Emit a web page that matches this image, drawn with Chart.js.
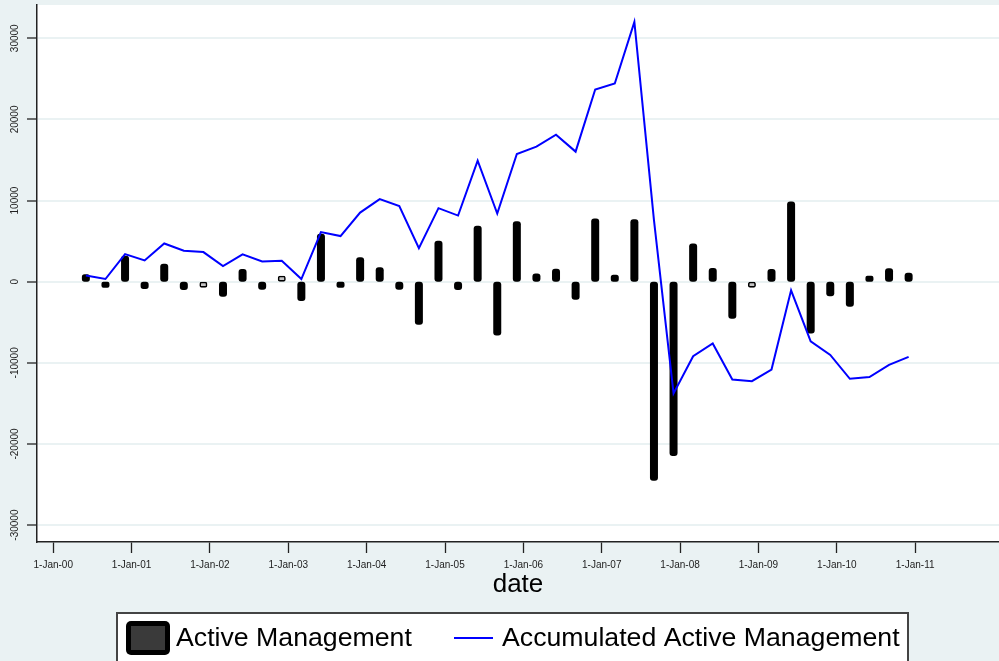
<!DOCTYPE html>
<html>
<head>
<meta charset="utf-8">
<script src="https://cdn.jsdelivr.net/npm/chart.js@4.4.0/dist/chart.umd.min.js"></script>
<style>
  html, body { margin: 0; padding: 0; background: #eaf2f3; }
  #wrap { width: 999px; height: 661px; }
</style>
</head>
<body>
<div id="wrap"><canvas id="chart"></canvas></div>
<script>
// Fechas trimestrales (una barra por trimestre)
const fechas = [
  '2000-06-01', '2000-09-01', '2000-12-01',
  '2001-03-01', '2001-06-01', '2001-09-01', '2001-12-01',
  '2002-03-01', '2002-06-01', '2002-09-01', '2002-12-01',
  '2003-03-01', '2003-06-01', '2003-09-01', '2003-12-01',
  '2004-03-01', '2004-06-01', '2004-09-01', '2004-12-01',
  '2005-03-01', '2005-06-01', '2005-09-01', '2005-12-01',
  '2006-03-01', '2006-06-01', '2006-09-01', '2006-12-01',
  '2007-03-01', '2007-06-01', '2007-09-01', '2007-12-01',
  '2008-03-01', '2008-06-01', '2008-09-01', '2008-12-01',
  '2009-03-01', '2009-06-01', '2009-09-01', '2009-12-01',
  '2010-03-01', '2010-06-01', '2010-09-01', '2010-12-01'
];

// Active Management (barras)
const activeMgmt = [
  780, -450, 3070,
  -780, 2090, -900, -160,
  -1720, 1430, -860, 80,
  -2250, 5780, -490, 2900,
  1650, -860, -5170, 4920,
  -910, 6770, -6520, 7340,
  900, 1480, -2090, 7660,
  740, 7580, -24410, -21370,
  4590, 1560, -4430, -210,
  1440, 9750, -6270, -1680,
  -2950, 260, 1520, 980
];

// Accumulated Active Management (línea)
const accumulated = [
  775, 330, 3400,
  2620, 4710, 3810, 3650,
  1930, 3360, 2500, 2580,
  330, 6110, 5620, 8520,
  10170, 9310, 4140, 9060,
  8150, 14920, 8400, 15740,
  16640, 18120, 16030, 23690,
  24430, 32010, 7600, -13770,
  -9180, -7620, -12050, -12260,
  -10820, -1070, -7340, -9020,
  -11970, -11760, -10240, -9260
];

// Etiquetas de los ejes
const xTickYears = [2000, 2001, 2002, 2003, 2004, 2005, 2006, 2007, 2008, 2009, 2010, 2011];
const xTickLabels = ['1-Jan-00', '1-Jan-01', '1-Jan-02', '1-Jan-03', '1-Jan-04', '1-Jan-05',
  '1-Jan-06', '1-Jan-07', '1-Jan-08', '1-Jan-09', '1-Jan-10', '1-Jan-11'];
const yTickValues = [-30000, -20000, -10000, 0, 10000, 20000, 30000];

const FONDO = '#eaf2f3';
const EJE = '#222222';
const FUENTE = "'Liberation Sans', Arial, Helvetica, sans-serif";

// Convierte 'YYYY-MM-DD' en año decimal
function aAnio(s) {
  const [a, m, d] = s.split('-').map(Number);
  return a + (m - 1) / 12 + (d - 1) / 365;
}

const barPoints = fechas.map((f, i) => ({ x: aAnio(f), y: activeMgmt[i] }));
const linePoints = fechas.map((f, i) => ({ x: aAnio(f), y: accumulated[i] }));

// Fondo gris azulado y área del gráfico en blanco
const fondoPlugin = {
  id: 'fondo',
  beforeDraw(chart) {
    const { ctx, chartArea: a } = chart;
    ctx.save();
    ctx.fillStyle = FONDO;
    ctx.fillRect(0, 0, chart.width, chart.height);
    ctx.fillStyle = '#ffffff';
    ctx.fillRect(a.left, a.top, a.right - a.left, a.bottom - a.top);
    ctx.restore();
  }
};

// Etiquetas verticales del eje Y
const etiquetasYPlugin = {
  id: 'etiquetasY',
  afterDraw(chart) {
    const { ctx } = chart;
    const y = chart.scales.y;
    ctx.save();
    ctx.font = '10px ' + FUENTE;
    ctx.fillStyle = EJE;
    ctx.textAlign = 'center';
    ctx.textBaseline = 'middle';
    y.ticks.forEach(t => {
      const py = y.getPixelForValue(t.value);
      ctx.save();
      ctx.translate(15, py);
      ctx.rotate(-Math.PI / 2);
      ctx.fillText(String(t.value), 0, 0);
      ctx.restore();
    });
    ctx.restore();
  }
};

// Leyenda en recuadro blanco, abajo
const leyendaPlugin = {
  id: 'leyenda',
  afterDraw(chart) {
    const { ctx } = chart;
    const ds = chart.data.datasets;
    ctx.save();
    ctx.fillStyle = '#ffffff';
    ctx.fillRect(117, 613, 791, 60);
    ctx.strokeStyle = '#444444';
    ctx.lineWidth = 2;
    ctx.strokeRect(117, 613, 791, 60);

    // símbolo de barra
    ctx.fillStyle = '#000000';
    ctx.beginPath();
    ctx.roundRect(126, 621, 44, 34, 5);
    ctx.fill();
    ctx.fillStyle = '#3a3a3a';
    ctx.fillRect(131, 626, 34, 24);

    // símbolo de línea
    ctx.strokeStyle = ds[0].borderColor;
    ctx.lineWidth = 2;
    ctx.beginPath();
    ctx.moveTo(454, 638);
    ctx.lineTo(493, 638);
    ctx.stroke();

    ctx.fillStyle = '#000000';
    ctx.font = '26.7px ' + FUENTE;
    ctx.textBaseline = 'middle';
    ctx.textAlign = 'left';
    ctx.fillText(ds[1].label, 176, 639);
    ctx.fillText(ds[0].label, 502, 639);
    ctx.restore();
  }
};

const esPequena = v => Math.abs(v) < 230;

window.addEventListener('load', () => {
  Chart.defaults.font.family = FUENTE;

  new Chart(document.getElementById('chart').getContext('2d'), {
    data: {
      datasets: [
        {
          type: 'line',
          label: 'Accumulated Active Management',
          data: linePoints,
          borderColor: '#0000ff',
          borderWidth: 2,
          pointRadius: 0,
          tension: 0,
          order: 0
        },
        {
          type: 'bar',
          label: 'Active Management',
          data: barPoints,
          backgroundColor: c => esPequena(c.raw.y) ? '#c4c4c4' : '#000000',
          borderColor: '#000000',
          borderWidth: c => esPequena(c.raw.y) ? 1.6 : 0,
          borderRadius: 4,
          borderSkipped: false,
          barThickness: 6,
          inflateAmount: 1,
          minBarLength: 5,
          order: 1
        }
      ]
    },
    options: {
      responsive: true,
      maintainAspectRatio: false,
      devicePixelRatio: 1,
      animation: false,
      layout: { padding: { top: 5, left: 0, right: 0, bottom: 0 } },
      plugins: {
        legend: { display: false },
        tooltip: { enabled: false }
      },
      scales: {
        x: {
          type: 'linear',
          position: 'bottom',
          offset: false,
          min: 1999.793,
          max: 2012.07,
          afterBuildTicks: s => { s.ticks = xTickYears.map(v => ({ value: v })); },
          afterFit: s => { s.height = 119; },
          ticks: {
            autoSkip: false,
            maxRotation: 0,
            minRotation: 0,
            padding: 6,
            color: EJE,
            font: { size: 10 },
            callback: v => xTickLabels[xTickYears.indexOf(v)]
          },
          grid: {
            offset: false,
            drawOnChartArea: false,
            drawTicks: true,
            tickLength: 11,
            tickColor: EJE,
            tickWidth: 1.3
          },
          border: { display: true, color: EJE, width: 1.5 },
          title: {
            display: true,
            text: 'date',
            color: '#000000',
            font: { size: 26 },
            padding: { top: 0, bottom: 61 }
          }
        },
        y: {
          type: 'linear',
          position: 'left',
          min: -32080,
          max: 34100,
          afterBuildTicks: s => { s.ticks = yTickValues.map(v => ({ value: v })); },
          afterFit: s => { s.width = 37; },
          ticks: { display: false },
          grid: {
            color: FONDO,
            lineWidth: 2,
            drawTicks: true,
            tickLength: 10,
            tickColor: EJE,
            tickWidth: 1.3
          },
          border: { display: true, color: EJE, width: 1.5 }
        }
      }
    },
    plugins: [fondoPlugin, etiquetasYPlugin, leyendaPlugin]
  });
});
</script>
</body>
</html>
